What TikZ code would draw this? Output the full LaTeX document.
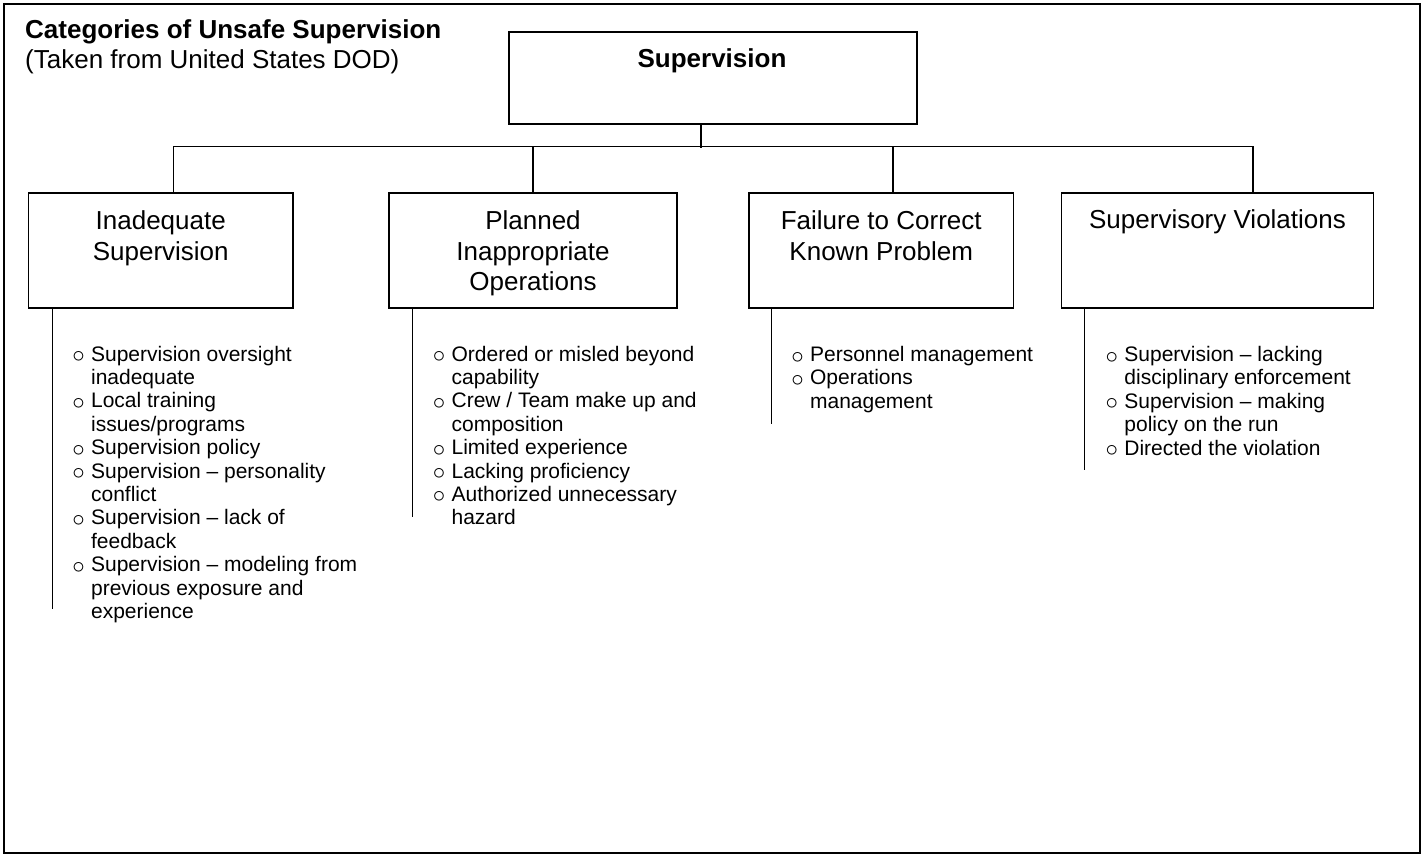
\documentclass[tikz,border=0pt]{standalone}
\usepackage{fontspec}
\setmainfont{Liberation Sans}
\newcommand\bul{\makebox[18.8pt][l]{\raisebox{-1.5pt}{\fontsize{26}{26}\selectfont$\circ$}}}
\begin{document}
\begin{tikzpicture}[x=1pt,y=-1pt,
  frame/.style={draw, line width=1.6pt},
  box/.style={draw, line width=1.5pt, rectangle, inner sep=0pt, minimum height=115pt},
  conn/.style={line width=1.2pt},
  big/.style={inner sep=0pt, font=\fontsize{26}{30.7}\selectfont},
  boxtext/.style={big, anchor=base},
  listtext/.style={inner sep=0pt, anchor=base west, font=\fontsize{21}{23.4}\selectfont},
]
\useasboundingbox (0,0) rectangle (1424,857);
\draw[frame] (4,4) rectangle (1420,853);

% title
\node[big, anchor=base west, font=\bfseries\fontsize{26}{30}\selectfont] (title) at (25,38.5) {Categories of Unsafe Supervision};
\node[big, anchor=base west] (subtitle) at (25,68.3) {(Taken from United States DOD)};

% boxes
\node[box, minimum width=408pt, minimum height=92pt] (sup) at (713,78) {};
\node[boxtext, font=\bfseries\fontsize{26}{30.7}\selectfont] (suptext) at (712,67) {Supervision};

\node[box, minimum width=264.5pt] (b1) at (160.75,250.5) {};
\node[box, minimum width=288pt] (b2) at (533,250.5) {};
\node[box, minimum width=264.5pt] (b3) at (881.25,250.5) {};
\node[box, minimum width=312pt] (b4) at (1217.5,250.5) {};

\node[boxtext] (t1) at (b1.north |- 0,229.3) {\begin{tabular}[t]{@{}c@{}}Inadequate\\Supervision\end{tabular}};
\node[boxtext] (t2) at (b2.north |- 0,229.3) {\begin{tabular}[t]{@{}c@{}}Planned\\Inappropriate\\Operations\end{tabular}};
\node[boxtext] (t3) at (b3.north |- 0,229.3) {\begin{tabular}[t]{@{}c@{}}Failure to Correct\\Known Problem\end{tabular}};
\node[boxtext] (t4) at (b4.north |- 0,228.5) {\begin{tabular}[t]{@{}c@{}}Supervisory Violations\end{tabular}};

% tree connectors
\draw[conn] ([xshift=-12pt]sup.south) -- ++(0,23) coordinate (busmid);
\draw[conn] ([xshift=12.75pt]b1.north) -- ++(0,-46) coordinate (busL) -| ([xshift=35.5pt]b4.north);
\draw[conn] (b2.north) -- ++(0,-46);
\draw[conn] ([xshift=11.75pt]b3.north) -- ++(0,-46);

% list rules
\draw[conn] ([xshift=24.5pt]b1.south west) -- ++(0,300) coordinate (e1);
\draw[conn] ([xshift=24pt]b2.south west) -- ++(0,208) coordinate (e2);
\draw[conn] ([xshift=23.6pt]b3.south west) -- ++(0,115) coordinate (e3);
\draw[conn] ([xshift=24.1pt]b4.south west) -- ++(0,161) coordinate (e4);

% lists
\node[listtext] (l1) at (72.1,361) {\begin{tabular}[t]{@{}l@{}l@{}}
\bul & Supervision oversight\\
 & inadequate\\
\bul & Local training\\
 & issues/programs\\
\bul & Supervision policy\\
\bul & Supervision -- personality\\
 & conflict\\
\bul & Supervision -- lack of\\
 & feedback\\
\bul & Supervision -- modeling from\\
 & previous exposure and\\
 & experience
\end{tabular}};

\node[listtext] (l2) at (432.6,361) {\begin{tabular}[t]{@{}l@{}l@{}}
\bul & Ordered or misled beyond\\
 & capability\\
\bul & Crew / Team make up and\\
 & composition\\
\bul & Limited experience\\
\bul & Lacking proficiency\\
\bul & Authorized unnecessary\\
 & hazard
\end{tabular}};

\node[listtext] (l3) at (791.1,361.5) {\begin{tabular}[t]{@{}l@{}l@{}}
\bul & Personnel management\\
\bul & Operations\\
 & management
\end{tabular}};

\node[listtext] (l4) at (1105.4,361.5) {\begin{tabular}[t]{@{}l@{}l@{}}
\bul & Supervision -- lacking\\
 & disciplinary enforcement\\
\bul & Supervision -- making\\
 & policy on the run\\
\bul & Directed the violation
\end{tabular}};
\end{tikzpicture}
\end{document}
